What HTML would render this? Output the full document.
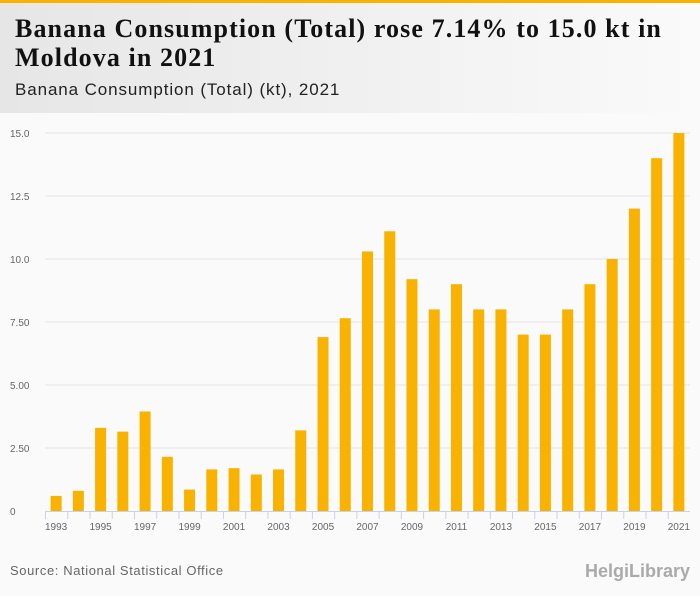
<!DOCTYPE html>
<html><head><meta charset="utf-8"><style>
body{margin:0;width:700px;height:596px;background:#fafafa;font-family:"Liberation Sans",sans-serif;overflow:hidden;position:relative}
#top{position:absolute;left:0;top:0;width:700px;height:3px;background:#f9b200}
#hdr{position:absolute;left:0;top:3px;width:700px;height:110px;background:linear-gradient(90deg,#e6e6e6,#fafafa)}
#title{position:absolute;left:15px;top:14px;font-family:"Liberation Serif",serif;font-weight:bold;font-size:26px;line-height:29px;color:#111;letter-spacing:1.1px;white-space:nowrap}
#sub{position:absolute;left:15px;top:80px;font-size:17px;color:#222;letter-spacing:0.9px}
#src{position:absolute;left:10px;top:563px;font-size:13px;color:#666;letter-spacing:0.6px}
#logo{position:absolute;right:10px;top:561px;font-size:18px;color:#aaa;font-weight:bold}
</style></head><body>
<div id="top"></div>
<div id="hdr"></div>
<div id="title">Banana Consumption (Total) rose 7.14% to 15.0 kt in<br>Moldova in 2021</div>
<div id="sub">Banana Consumption (Total) (kt), 2021</div>
<svg id="chart" width="700" height="596" style="position:absolute;left:0;top:0"></svg>
<div id="src">Source: National Statistical Office</div>
<div id="logo">HelgiLibrary</div>
<script>
const years=[1993,1994,1995,1996,1997,1998,1999,2000,2001,2002,2003,2004,2005,2006,2007,2008,2009,2010,2011,2012,2013,2014,2015,2016,2017,2018,2019,2020,2021];
const values=[0.6,0.8,3.3,3.15,3.95,2.15,0.85,1.65,1.7,1.45,1.65,3.2,6.9,7.65,10.3,11.1,9.2,8.0,9.0,8.0,8.0,7.0,7.0,8.0,9.0,10.0,12.0,14.0,15.0];
const yTicks=[0,2.5,5,7.5,10,12.5,15];
const yTickLabels=["0","2.50","5.00","7.50","10.0","12.5","15.0"];
const NS="http://www.w3.org/2000/svg";
const svg=document.getElementById('chart');
const x0=45,x1=690,y0=511,y1=133,yMax=15;
const band=(x1-x0)/years.length;
const xs=i=>x0+band*i;
const ys=v=>y0-(v/yMax)*(y0-y1);
function mk(t,a){const e=document.createElementNS(NS,t);for(const k in a)e.setAttribute(k,a[k]);svg.appendChild(e);return e;}
yTicks.forEach((t,i)=>{
  if(t>0){const g=mk('line',{x1:x0,x2:x1,y1:ys(t),y2:ys(t),stroke:'#e4e4e4','stroke-width':1});
  
  }
  const l=mk('text',{x:10,y:ys(t)+4,'font-size':10,fill:'#666','font-family':'Liberation Sans, sans-serif'});
  l.textContent=yTickLabels[i];
  
  
});
values.forEach((v,i)=>{
  const r=mk('rect',{x:xs(i)+band/2-5.5,y:ys(v),width:11,height:y0-ys(v),fill:'#f9b200'});
  
  
});
const ax=mk('line',{x1:x0,x2:x1,y1:y0+0.5,y2:y0+0.5,stroke:'#c5d3e8','stroke-width':1});


years.forEach((yr,i)=>{
  const tk=mk('line',{x1:xs(i)+0.5,x2:xs(i)+0.5,y1:y0,y2:y0+8,stroke:'#c5d3e8','stroke-width':1});
  
  
  if(i%2===0){const l=mk('text',{x:xs(i)+band/2,y:y0+19,'font-size':10,fill:'#666','text-anchor':'middle','font-family':'Liberation Sans, sans-serif'});
  l.textContent=yr;
  
  }
});
</script>
</body></html>
